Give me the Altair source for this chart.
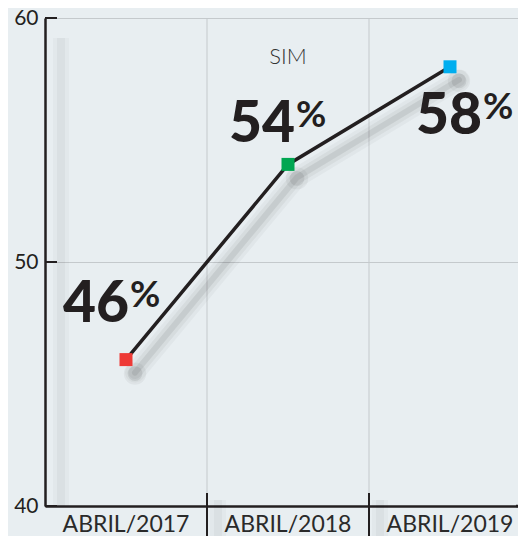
import altair as alt
import pandas as pd

periods = ["ABRIL/2017", "ABRIL/2018", "ABRIL/2019"]
values = [46, 54, 58]
colors = ["#ee3a36", "#00a651", "#00aeef"]
y_ticks = [40, 50, 60]
series_label = "SIM"

W, H = 473, 488
XR = 486
BG = "#e8eef1"
INK = "#231f20"
FONT = "Lato"

df = pd.DataFrame({"period": periods, "value": values, "color": colors,
                   "num": [str(v) for v in values]})
bounds = pd.DataFrame({"period": periods[1:]})
ticks_df = pd.DataFrame({"tick": y_ticks})
one = pd.DataFrame({"k": [0]})

xs = alt.Scale(type="band", domain=periods, paddingInner=0, paddingOuter=0,
               range=[0, XR])
ys = alt.Scale(domain=[40, 60], nice=False, zero=False)
X = alt.X("period:N", scale=xs, sort=periods,
          axis=alt.Axis(title=None, ticks=False, grid=False, domainColor=INK,
                        domainWidth=2.5, labelFontSize=23, labelColor="#2a2a2a",
                        labelFont=FONT, labelPadding=18, labelBaseline="middle",
                        labelAlign="center", labelAngle=0))
Y = alt.Y("value:Q", scale=ys,
          axis=alt.Axis(title=None, values=y_ticks, ticks=False, grid=True,
                        gridColor="#c4c9cc", gridWidth=1, domainColor=INK,
                        domainWidth=2.5, labelFontSize=21, labelColor=INK,
                        labelFont=FONT, labelPadding=7))

base = alt.Chart(df)

vgrid = alt.Chart(bounds).mark_rule(color="#c4c9cc", strokeWidth=1).encode(
    x=alt.X("period:N", scale=xs, sort=periods, bandPosition=0),
    y=alt.value(0), y2=alt.value(H))

hgrid_ext = alt.Chart(pd.DataFrame({"tick": y_ticks[1:]})).mark_rule(
    color="#c4c9cc", strokeWidth=1).encode(
    y=alt.Y("tick:Q", scale=ys), x=alt.value(W), x2=alt.value(XR))

glows = []
for w, op in [(16, 0.025), (8, 0.03)]:
    glows.append(alt.Chart(bounds).mark_rule(color="#000000", strokeWidth=w, opacity=op,
                                             xOffset=11).encode(
        x=alt.X("period:N", scale=xs, sort=periods, bandPosition=0),
        y=alt.value(H - 6), y2=alt.value(H + 40)))
    glows.append(alt.Chart(one).mark_rule(color="#000000", strokeWidth=w, opacity=op).encode(
        x=alt.value(16), y=alt.value(20), y2=alt.value(H)))

xticks = alt.Chart(bounds).mark_rule(color=INK, strokeWidth=2).encode(
    x=alt.X("period:N", scale=xs, sort=periods, bandPosition=0),
    y=alt.value(H - 13), y2=alt.value(H + 40))

xdomain_ext = alt.Chart(one).mark_rule(color=INK, strokeWidth=2.5).encode(
    y=alt.value(H), x=alt.value(W - 2), x2=alt.value(XR))

yticks = alt.Chart(ticks_df).mark_rule(color=INK, strokeWidth=2).encode(
    y=alt.Y("tick:Q", scale=ys), x=alt.value(0), x2=alt.value(12))

shadows = []
for w, op in [(20, 0.03), (13, 0.045), (6, 0.07)]:
    shadows.append(base.mark_line(color="#000000", opacity=op, strokeWidth=w,
                                  xOffset=9, yOffset=13, strokeCap="round").encode(x=X, y=Y))
for s, op in [(500, 0.045), (220, 0.08)]:
    shadows.append(base.mark_circle(size=s, color="#000000", opacity=op,
                                    xOffset=9, yOffset=14).encode(x=X, y=Y))

line = base.mark_line(color=INK, strokeWidth=3.5).encode(x=X, y=Y)
pts = base.mark_square(size=169, opacity=1).encode(
    x=X, y=Y, color=alt.Color("color:N", scale=None))

offsets = [(3, -38), (7, -22), (32, 67)]
labels = []
for p, (dx, dy) in zip(periods, offsets):
    sub = base.transform_filter(alt.datum.period == p)
    labels.append(sub.mark_text(align="right", baseline="alphabetic", dx=dx, dy=dy,
                                fontSize=57, fontWeight=900, font=FONT, color=INK)
                  .encode(x=X, y=Y, text="num:N"))
    labels.append(sub.mark_text(align="left", baseline="alphabetic", dx=dx + 1,
                                dy=dy - 15, fontSize=37, fontWeight=700, font=FONT,
                                color=INK, text="%")
                  .encode(x=X, y=Y))

sim = alt.Chart(pd.DataFrame({"period": [periods[1]], "t": [series_label]})).mark_text(
    fontSize=22, font=FONT, fontWeight=300, color="#333333", baseline="middle").encode(
    x=alt.X("period:N", scale=xs, sort=periods), y=alt.value(39), text="t:N")

chart = alt.layer(vgrid, hgrid_ext, *glows, *shadows, line, pts, *labels, sim,
                  xticks, xdomain_ext, yticks).properties(
    width=W, height=H, background=BG,
    autosize=alt.AutoSizeParams(type="none"),
    padding={"left": 37, "top": 10, "right": 0, "bottom": 30},
).configure_view(stroke=None)

chart.save("out.html", embed_options={"renderer": "svg", "actions": False})
